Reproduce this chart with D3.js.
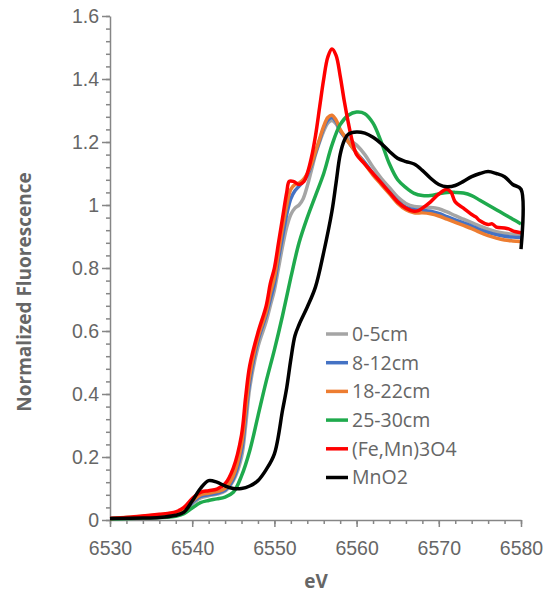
<!DOCTYPE html>
<html>
<head>
<meta charset="utf-8">
<title>Normalized Fluorescence</title>
<script src="https://cdn.jsdelivr.net/npm/d3@7"></script>
<style>
  html, body { margin: 0; padding: 0; background: #fff; }
  svg { display: block; font-family: "Open Sans", sans-serif; }
  .axis .domain, .axis line { stroke: #868686; stroke-width: 1.5px; }
  .axis text { fill: #666; font-size: 19.5px; }
  .title { fill: #666; font-size: 19px; font-weight: bold; }
  .legend text { fill: #666; font-size: 19.5px; }
</style>
</head>
<body>
<div id="chart"></div>
<script>
// series data, [eV, normalized fluorescence]
var gray05 = [[6530,0.004],[6534,0.01],[6538,0.02],[6539,0.03],[6540,0.05],[6541,0.07],[6542,0.077],[6543,0.082],[6544,0.092],[6545,0.125],[6546,0.2],[6546.5,0.3],[6547,0.42],[6548,0.55],[6549,0.63],[6549.5,0.68],[6550,0.73],[6550.5,0.8],[6551,0.87],[6551.5,0.93],[6552,0.97],[6552.5,0.99],[6553,1.0],[6553.5,1.02],[6554,1.06],[6554.5,1.11],[6555,1.16],[6555.5,1.2],[6556,1.235],[6556.5,1.26],[6557,1.268],[6557.5,1.258],[6558,1.235],[6559,1.21],[6560,1.19],[6561,1.16],[6562,1.12],[6563,1.085],[6564,1.055],[6565,1.025],[6566,1.005],[6567,0.995],[6568,0.993],[6569,0.992],[6570,0.988],[6571,0.978],[6572,0.966],[6573,0.955],[6574,0.944],[6575,0.933],[6576,0.923],[6577,0.915],[6578,0.91],[6579,0.907],[6580,0.905]];
var blue812 = [[6530,0.005],[6534,0.011],[6538,0.022],[6539,0.032],[6540,0.055],[6541,0.075],[6542,0.08],[6543,0.085],[6544,0.095],[6545,0.13],[6546,0.22],[6546.5,0.33],[6547,0.44],[6548,0.57],[6549,0.65],[6549.5,0.7],[6550,0.75],[6550.5,0.83],[6551,0.9],[6551.5,0.97],[6552,1.02],[6552.5,1.045],[6553,1.06],[6553.5,1.075],[6554,1.095],[6554.5,1.125],[6555,1.165],[6555.5,1.205],[6556,1.245],[6556.5,1.27],[6557,1.278],[6557.5,1.265],[6558,1.235],[6559,1.2],[6560,1.165],[6561,1.135],[6562,1.1],[6563,1.07],[6564,1.04],[6565,1.012],[6566,0.993],[6567,0.985],[6568,0.983],[6569,0.98],[6570,0.973],[6571,0.963],[6572,0.953],[6573,0.943],[6574,0.933],[6575,0.922],[6576,0.913],[6577,0.906],[6578,0.901],[6579,0.898],[6580,0.897]];
var orange1822 = [[6530,0.005],[6534,0.012],[6538,0.024],[6539,0.035],[6540,0.06],[6541,0.08],[6542,0.085],[6543,0.09],[6544,0.1],[6545,0.14],[6546,0.24],[6546.5,0.35],[6547,0.46],[6548,0.58],[6549,0.66],[6549.5,0.72],[6550,0.77],[6550.5,0.85],[6551,0.93],[6551.5,1.0],[6552,1.05],[6552.5,1.065],[6553,1.07],[6553.5,1.08],[6554,1.1],[6554.5,1.13],[6555,1.17],[6555.5,1.21],[6556,1.25],[6556.5,1.278],[6557,1.285],[6557.5,1.27],[6558,1.24],[6559,1.2],[6560,1.165],[6561,1.13],[6562,1.095],[6563,1.065],[6564,1.035],[6565,1.005],[6566,0.985],[6567,0.975],[6568,0.975],[6569,0.972],[6570,0.965],[6571,0.955],[6572,0.945],[6573,0.935],[6574,0.925],[6575,0.913],[6576,0.903],[6577,0.895],[6578,0.889],[6579,0.886],[6580,0.884]];
var green2530 = [[6530,0.003],[6534,0.006],[6538,0.012],[6539,0.02],[6540,0.038],[6541,0.055],[6542,0.062],[6543,0.067],[6544,0.073],[6545,0.088],[6546,0.14],[6547,0.22],[6548,0.33],[6549,0.44],[6550,0.54],[6551,0.65],[6552,0.77],[6553,0.88],[6554,0.96],[6555,1.03],[6556,1.1],[6557,1.19],[6558,1.255],[6559,1.285],[6560,1.295],[6561,1.29],[6562,1.26],[6563,1.2],[6564,1.13],[6565,1.08],[6566,1.055],[6567,1.037],[6568,1.03],[6569,1.03],[6570,1.035],[6571,1.04],[6572,1.04],[6573,1.038],[6574,1.03],[6575,1.015],[6576,1.0],[6577,0.985],[6578,0.97],[6579,0.955],[6580,0.94]];
var redFeMn = [[6530,0.005],[6532,0.008],[6534,0.013],[6536,0.018],[6538,0.026],[6539,0.04],[6540,0.068],[6541,0.088],[6542,0.093],[6543,0.098],[6544,0.115],[6545,0.165],[6546,0.27],[6546.5,0.39],[6547,0.49],[6548,0.595],[6549,0.68],[6549.5,0.75],[6550,0.8],[6550.5,0.88],[6551,0.96],[6551.5,1.04],[6551.8,1.075],[6552.3,1.075],[6553,1.065],[6553.6,1.075],[6554,1.1],[6554.5,1.15],[6555,1.22],[6555.5,1.31],[6556,1.4],[6556.5,1.47],[6557,1.495],[6557.5,1.475],[6558,1.41],[6558.5,1.33],[6559,1.26],[6559.5,1.2],[6560,1.16],[6561,1.13],[6562,1.1],[6563,1.07],[6564,1.04],[6565,1.01],[6566,0.99],[6567,0.98],[6567.5,0.982],[6568,0.99],[6569,1.01],[6570,1.035],[6571,1.05],[6571.5,1.04],[6572,1.01],[6573,0.99],[6574,0.97],[6574.5,0.962],[6575,0.95],[6576,0.938],[6576.5,0.94],[6577,0.93],[6578,0.927],[6578.5,0.924],[6579,0.918],[6580,0.912]];
var blackMnO2 = [[6530,0.005],[6534,0.006],[6536,0.008],[6538,0.015],[6539,0.025],[6540,0.06],[6541,0.1],[6542,0.125],[6543,0.12],[6544,0.108],[6545,0.1],[6546,0.1],[6547,0.108],[6548,0.125],[6549,0.16],[6550,0.21],[6551,0.35],[6551.5,0.42],[6552,0.51],[6552.5,0.585],[6553,0.62],[6554,0.676],[6555,0.74],[6556,0.85],[6557,0.98],[6557.5,1.07],[6558,1.16],[6558.5,1.205],[6559,1.225],[6560,1.232],[6561,1.228],[6562,1.215],[6563,1.195],[6564,1.17],[6565,1.148],[6566,1.138],[6567,1.13],[6568,1.11],[6569,1.085],[6570,1.065],[6571,1.058],[6572,1.062],[6573,1.075],[6574,1.09],[6575,1.1],[6576,1.106],[6577,1.1],[6578,1.09],[6579,1.065],[6580,1.05],[6580,0.86]];

var seriesNames = ["0-5cm", "8-12cm", "18-22cm", "25-30cm", "(Fe,Mn)3O4", "MnO2"];
var seriesData = [gray05, blue812, orange1822, green2530, redFeMn, blackMnO2];
var seriesColors = ["#a5a5a5", "#4472c4", "#ed7d31", "#1faa4d", "#ff0000", "#000000"];
var xTicks = [6530, 6540, 6550, 6560, 6570, 6580];
var yTicks = [0, 0.2, 0.4, 0.6, 0.8, 1, 1.2, 1.4, 1.6];

var width = 553, height = 596;
var margin = {top: 16, right: 32, bottom: 76, left: 110};

var svg = d3.select("#chart").append("svg")
    .attr("width", width)
    .attr("height", height);

var x = d3.scaleLinear().domain([6530, 6580]).range([margin.left, width - margin.right]);
var y = d3.scaleLinear().domain([0, 1.6]).range([height - margin.bottom, margin.top]);

// minor ticks first, majors on top
svg.append("g")
    .attr("class", "axis")
    .attr("transform", "translate(0," + y(0) + ")")
    .call(d3.axisBottom(x).tickValues(d3.range(6530, 6581, 2)).tickSize(4).tickFormat(""))
    .select(".domain").remove();
svg.append("g")
    .attr("class", "axis")
    .attr("transform", "translate(" + x(6530) + ",0)")
    .call(d3.axisLeft(y).tickValues(d3.range(0, 1.61, 0.04)).tickSize(4).tickFormat(""))
    .select(".domain").remove();

svg.append("g")
    .attr("class", "axis")
    .attr("transform", "translate(0," + y(0) + ")")
    .call(d3.axisBottom(x).tickValues(xTicks).tickSize(7).tickSizeOuter(0).tickPadding(14).tickFormat(d3.format("d")));
svg.append("g")
    .attr("class", "axis")
    .attr("transform", "translate(" + x(6530) + ",0)")
    .call(d3.axisLeft(y).tickValues(yTicks).tickSize(8).tickSizeOuter(0).tickPadding(3).tickFormat(function(d) { return d3.format("")(+d.toFixed(1)); }));

var line = d3.line()
    .curve(d3.curveCatmullRom.alpha(0.5))
    .x(function(d) { return x(d[0]); })
    .y(function(d) { return y(d[1]); });

seriesData.forEach(function(s, i) {
    svg.append("path")
        .datum(s)
        .attr("fill", "none")
        .attr("stroke", seriesColors[i])
        .attr("stroke-width", 3.5)
        .attr("stroke-linejoin", "round")
        .attr("d", line);
});

// legend
var legend = svg.append("g").attr("class", "legend").attr("transform", "translate(326,334)");
seriesNames.forEach(function(name, i) {
    var row = legend.append("g").attr("transform", "translate(0," + (i * 28.7) + ")");
    row.append("line")
        .attr("x1", 0).attr("x2", 22)
        .attr("stroke", seriesColors[i])
        .attr("stroke-width", 3.5);
    row.append("text")
        .attr("x", 26)
        .attr("dy", "0.35em")
        .text(name);
});

svg.append("text")
    .attr("class", "title")
    .attr("text-anchor", "middle")
    .attr("x", 316)
    .attr("y", 588)
    .text("eV");

svg.append("text")
    .attr("class", "title")
    .attr("text-anchor", "middle")
    .attr("transform", "translate(31,292) rotate(-90)")
    .text("Normalized Fluorescence");
</script>
</body>
</html>
